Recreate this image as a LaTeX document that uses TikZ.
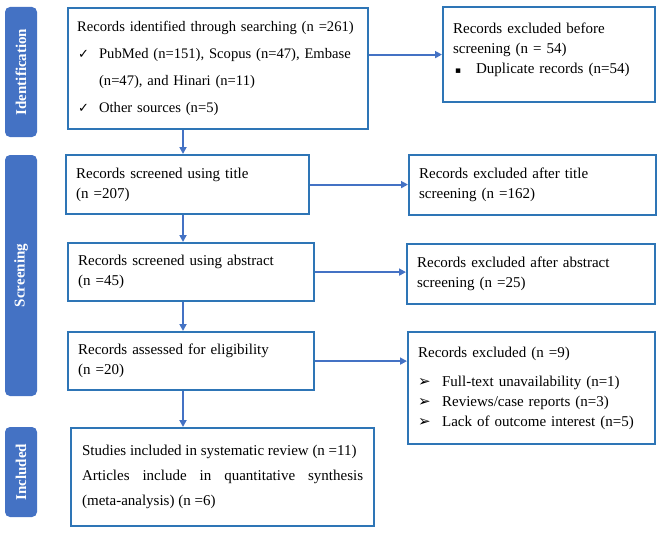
\documentclass[tikz,border=0pt]{standalone}
\usepackage{fontspec}
\setmainfont{Liberation Serif}
\newfontfamily\symfont{DejaVu Sans}
\usetikzlibrary{arrows.meta}
\hyphenpenalty=10000
\exhyphenpenalty=10000
\definecolor{PrismaBox}{HTML}{2E75B6}
\definecolor{PrismaBar}{HTML}{4472C4}
\definecolor{PrismaLine}{HTML}{4472C4}
\newcommand{\chkitem}{\makebox[22pt][l]{\hspace{1pt}{\symfont\fontsize{13}{13}\selectfont ✓}}}
\newcommand{\sqitem}{\makebox[23pt][l]{\hspace{2pt}{\symfont\fontsize{9}{9}\selectfont ▪}}}
\newcommand{\arritem}{\makebox[24pt][l]{{\symfont\fontsize{15}{15}\selectfont ➢}}}
\tikzset{
  box/.style={
    draw=PrismaBox,
    line width=2.2pt,
    fill=white,
    anchor=north west,
    align=left,
    inner xsep=10pt,
    inner ysep=2pt,
    font=\fontsize{15}{20}\selectfont
  },
  stage/.style={
    rounded corners=5pt,
    fill=PrismaBar,
    text=white,
    rotate=90,
    inner sep=0pt,
    font=\bfseries\fontsize{15}{18}\selectfont
  },
  arrow/.style={-{Triangle[length=7pt,width=7pt]},draw=PrismaLine,line width=2pt}
}

\begin{document}
\begin{tikzpicture}[x=1pt,y=-1pt]
  \useasboundingbox (0,0) rectangle (660,532);

  % Stage bars on the left.
  \node[stage,minimum width=130pt,minimum height=32pt] (sIdent) at (21,72) {Identification};
  \node[stage,minimum width=241pt,minimum height=32pt] (sScreen) at (21,275.5) {Screening};
  \node[stage,minimum width=90pt,minimum height=32pt] (sIncl) at (21,472) {Included};

  % Main column.
  \node[box,minimum width=300pt,minimum height=121pt,text width=282pt,inner xsep=9pt,font=\fontsize{14.6}{27}\selectfont] (ident) at (67,7)
    {Records identified through searching (n =261)\\
     \chkitem PubMed (n=151), Scopus (n=47), Embase\\
     \hspace*{22pt}(n=47), and Hinari (n=11)\\
     \chkitem Other sources (n=5)};
  \node[box,minimum width=243pt,minimum height=59pt,text width=223pt] (title) at (65,154)
    {Records screened using title\\(n =207)};
  \node[box,minimum width=246pt,minimum height=58pt,text width=226pt] (abs) at (67,242)
    {Records screened using abstract\\(n =45)};
  \node[box,minimum width=246pt,minimum height=58pt,text width=226pt] (elig) at (67,331)
    {Records assessed for eligibility\\(n =20)};
  \node[box,minimum width=303pt,minimum height=98pt,text width=281pt,inner xsep=11pt,align=justify,font=\fontsize{15}{25}\selectfont] (incl) at (70,427)
    {\tolerance=10000 Studies included in systematic review (n =11)\par
     Articles include in quantitative synthesis (meta-analysis) (n =6)};

  % Exclusion column.
  \node[box,minimum width=212pt,minimum height=95pt,text width=192pt] (dup) at (442,6)
    {Records excluded before\\screening (n = 54)\\
     \sqitem Duplicate records (n=54)\\[-8pt]\mbox{}};
  \node[box,minimum width=247pt,minimum height=60pt,text width=227pt] (titleex) at (408,154)
    {Records excluded after title\\screening (n =162)};
  \node[box,minimum width=248pt,minimum height=60pt,text width=228pt] (absex) at (406,243)
    {Records excluded after abstract\\screening (n =25)};
  \node[box,minimum width=247pt,minimum height=112pt,text width=227pt] (eligex) at (407,331)
    {Records excluded (n =9)\\[9pt]
     \arritem Full-text unavailability (n=1)\\
     \arritem Reviews/case reports (n=3)\\
     \arritem Lack of outcome interest (n=5)};

  % Connectors.
  \coordinate (spine) at (183,0);
  \draw[arrow] (ident.south -| spine) -- (title.north -| spine);
  \draw[arrow] (title.south -| spine) -- (abs.north -| spine);
  \draw[arrow] (abs.south -| spine) -- (elig.north -| spine);
  \draw[arrow] (elig.south -| spine) -- (incl.north -| spine);
  \draw[arrow] (ident.east |- dup.west) -- (dup.west);
  \draw[arrow] (title.east) -- (title.east -| titleex.west);
  \draw[arrow] (abs.east) -- (abs.east -| absex.west);
  \draw[arrow] (elig.east) -- (elig.east -| eligex.west);
\end{tikzpicture}
\end{document}
